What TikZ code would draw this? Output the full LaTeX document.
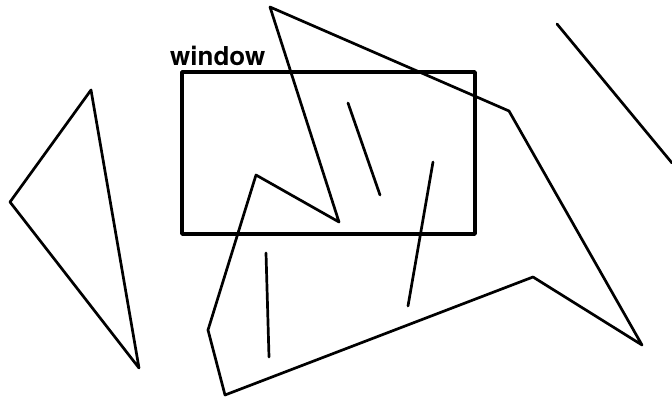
\documentclass[tikz,border=0pt]{standalone}
\usepackage{fontspec}
\setmainfont{TeX Gyre Heros}
\usepackage{tikz}

\begin{document}
\begin{tikzpicture}[x=1pt, y=-1pt, line join=round, line cap=round]
\useasboundingbox (0,0) rectangle (672,398);
% Window
\draw[line width=3.6pt] (182,72) rectangle (475,234);
\node[anchor=base west, inner sep=0pt, font=\bfseries\fontsize{26}{26}\selectfont] (windowlabel) at (170,66) {window};
% Polygons
\draw[line width=2.7pt] (91,90) -- (10,202) -- (139,368) -- cycle;
\draw[line width=2.7pt] (270,7) -- (509,111) -- (642,345) -- (533,277) -- (225,395) -- (208,330) -- (256,175) -- (339,222) -- cycle;
% Segments
\draw[line width=2.7pt] (348,103) -- (380,195);
\draw[line width=2.7pt] (433,162) -- (408,306);
\draw[line width=2.7pt] (266,253) -- (269,357);
\draw[line width=2.7pt] (557,24) -- (672,163);
\end{tikzpicture}
\end{document}
